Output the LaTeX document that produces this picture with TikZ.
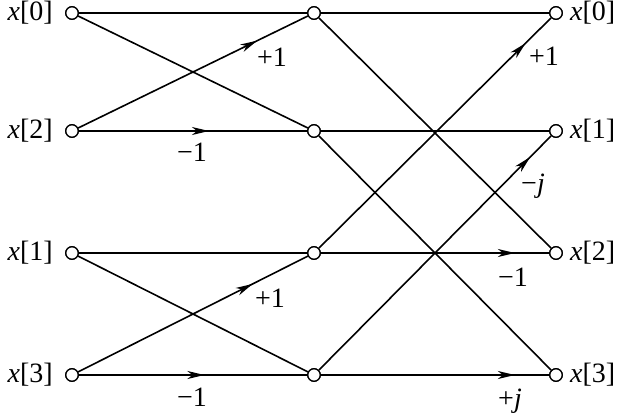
\documentclass[tikz,border=0pt]{standalone}
\usepackage{fontspec}
\setmainfont{Liberation Serif}
\usetikzlibrary{decorations.markings,arrows.meta}
\begin{document}
\begin{tikzpicture}[x=1pt,y=-1pt,
  circ/.style={circle,draw,fill=white,minimum size=12.5pt,inner sep=0pt,line width=1.3pt},
  wire/.style={line width=1.6pt},
  arr/.style={wire,postaction={decorate},decoration={markings,mark=at position #1 with {\arrow{Stealth[length=17pt,width=8pt,inset=5pt]}}}},
  lab/.style={inner sep=0pt,font=\fontsize{28}{32}\selectfont},
  wl/.style={inner sep=0pt,font=\fontsize{28}{32}\selectfont}]
\useasboundingbox (0,0) rectangle (619,415);
% nodes
\foreach \i/\y in {0/13,1/131,2/253,3/375}{
  \node[circ] (a\i) at (72,\y) {};
  \node[circ] (m\i) at (314,\y) {};
  \node[circ] (r\i) at (556,\y) {};
}
% input labels
\node[lab,anchor=east] (la0) at (53,13) {\textit{x}[0]};
\node[lab,anchor=east] (la1) at (53,131) {\textit{x}[2]};
\node[lab,anchor=east] (la2) at (53,253) {\textit{x}[1]};
\node[lab,anchor=east] (la3) at (53,375) {\textit{x}[3]};
% output labels
\node[lab,anchor=west] (lr0) at (570,13) {\textit{x}[0]};
\node[lab,anchor=west] (lr1) at (570,131) {\textit{x}[1]};
\node[lab,anchor=west] (lr2) at (570,253) {\textit{x}[2]};
\node[lab,anchor=west] (lr3) at (570,375) {\textit{x}[3]};
% stage 1
\draw[wire] (a0) -- (m0);
\draw[wire] (a0) -- (m1);
\draw[arr=0.78] (a1) -- (m0);
\draw[arr=0.57] (a1) -- (m1);
\draw[wire] (a2) -- (m2);
\draw[wire] (a2) -- (m3);
\draw[arr=0.76] (a3) -- (m2);
\draw[arr=0.55] (a3) -- (m3);
% stage 2
\draw[wire] (m0) -- (r0);
\draw[wire] (m0) -- (r2);
\draw[wire] (m1) -- (r1);
\draw[wire] (m1) -- (r3);
\draw[arr=0.89] (m2) -- (r0);
\draw[arr=0.85] (m2) -- (r2);
\draw[arr=0.91] (m3) -- (r1);
\draw[arr=0.85] (m3) -- (r3);
% redraw circles on top
\foreach \i in {0,1,2,3}{
  \node[circ] at (a\i) {};
  \node[circ] at (m\i) {};
  \node[circ] at (r\i) {};
}
% weights
\node[wl] (w1) at (272,57) {+1};
\node[wl] (w2) at (192,152) {−1};
\node[wl] (w3) at (270,298) {+1};
\node[wl] (w4) at (192,397) {−1};
\node[wl] (w5) at (544,56) {+1};
\node[wl] (w6) at (533,186) {−\textit{j}};
\node[wl] (w7) at (513,277) {−1};
\node[wl] (w8) at (510,401) {+\textit{j}};
\end{tikzpicture}
\end{document}
